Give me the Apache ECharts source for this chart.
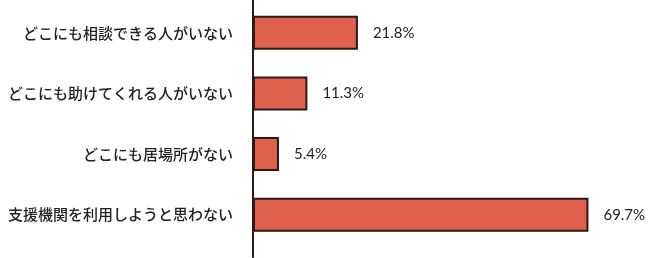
<!DOCTYPE html>
<html>
<head>
<meta charset="utf-8">
<script src="https://cdn.jsdelivr.net/npm/echarts@6/dist/echarts.min.js"></script>
<style>
html,body{margin:0;padding:0;background:#fff;}
#chart{width:650px;height:258px;}
</style>
</head>
<body>
<div id="chart"></div>
<script>
var categories = ['どこにも相談できる人がいない', 'どこにも助けてくれる人がいない', 'どこにも居場所がない', '支援機関を利用しようと思わない'];
var values = [21.8, 11.3, 5.4, 69.7];

var chart = echarts.init(document.getElementById('chart'), null, {renderer: 'canvas'});
chart.setOption({
  animation: false,
  grid: [
    {left: 253, right: 12, top: 2.5, height: 242.5},
    {left: 253, right: 12, top: 0, bottom: 1}
  ],
  xAxis: [
    {gridIndex: 0, type: 'value', min: 0, max: 80, show: false},
    {gridIndex: 1, type: 'value', min: 0, max: 80, show: false}
  ],
  yAxis: [
    {
      gridIndex: 0, type: 'category', data: categories, inverse: true,
      axisLine: {show: false}, axisTick: {show: false},
      axisLabel: {margin: 20, fontSize: 15, fontWeight: 500, color: '#222',
        fontFamily: '"Noto Sans CJK JP", sans-serif'}
    },
    {
      gridIndex: 1, type: 'category', data: [''],
      axisLine: {show: true, lineStyle: {color: '#2a1a18', width: 2}},
      axisTick: {show: false}, axisLabel: {show: false}
    }
  ],
  series: [{
    type: 'bar', xAxisIndex: 0, yAxisIndex: 0,
    data: values, barWidth: 34,
    itemStyle: {color: '#e0604e', borderColor: '#2a1a18', borderWidth: 2},
    label: {show: true, position: 'right', distance: 15,
      formatter: function(p){ return p.value.toFixed(1) + '%'; },
      fontSize: 15, color: '#222', fontFamily: 'Lato, sans-serif'}
  }]
});
</script>
</body>
</html>
